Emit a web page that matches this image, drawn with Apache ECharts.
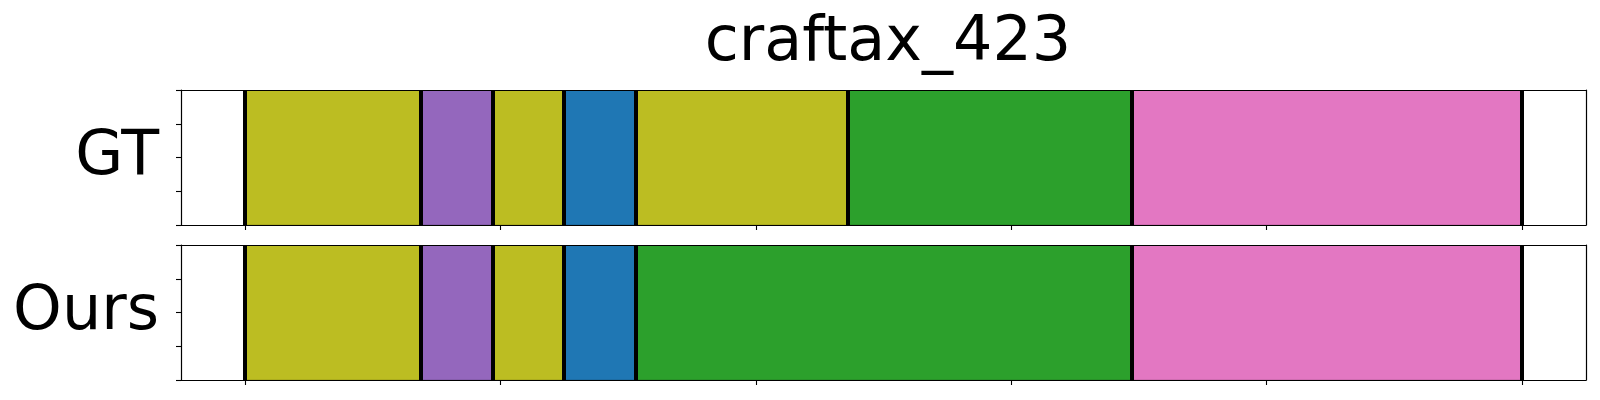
<!DOCTYPE html>
<html>
<head>
<meta charset="utf-8">
<script src="https://cdn.jsdelivr.net/npm/echarts@6/dist/echarts.min.js"></script>
<style>
  html, body { margin: 0; padding: 0; background: #fff; }
  #chart { width: 1600px; height: 400px; }
</style>
</head>
<body>
<div id="chart"></div>
<script>
// ---- data ----
const chartTitle = 'craftax_423';
const rowNames = ['GT', 'Ours'];
const xTicks = [0, 100, 200, 300, 400, 500];
const yTicks = [0, 0.25, 0.5, 0.75, 1];
const gtBoundaries = [0, 69, 97, 125, 153, 236, 347, 500];
const gtClasses = ['olive', 'purple', 'olive', 'blue', 'olive', 'green', 'pink'];
const oursBoundaries = [0, 69, 97, 125, 153, 347, 500];
const oursClasses = ['olive', 'purple', 'olive', 'blue', 'green', 'pink'];
const classColors = {
  olive: '#bcbd22', purple: '#9467bd', blue: '#1f77b4', green: '#2ca02c', pink: '#e377c2'
};
const xMin = -25, xMax = 525;

// ---- build ----
const FONT = 'DejaVu Sans';
const grids = [
  { left: 181, top: 90, right: 14, height: 135 },
  { left: 181, top: 245, right: 14, height: 135 }
];
const rows = [
  { b: gtBoundaries, c: gtClasses },
  { b: oursBoundaries, c: oursClasses }
];

const xAxes = [], yAxes = [], series = [];
rows.forEach((row, i) => {
  // bottom x axis
  xAxes.push({
    type: 'value', gridIndex: i, min: xMin, max: xMax, z: 10,
    axisLine: { show: true, onZero: false, lineStyle: { color: '#000', width: 1.2 } },
    axisTick: { show: true, length: 5, customValues: xTicks, lineStyle: { color: '#000', width: 1.1 } },
    axisLabel: { show: false, customValues: xTicks },
    splitLine: { show: false }
  });
  // top frame line
  xAxes.push({
    type: 'value', gridIndex: i, position: 'top', min: xMin, max: xMax, z: 10,
    axisLine: { show: true, onZero: false, lineStyle: { color: '#000', width: 1.2 } },
    axisTick: { show: false }, axisLabel: { show: false }, splitLine: { show: false }
  });
  // left y axis
  yAxes.push({
    type: 'value', gridIndex: i, min: 0, max: 1, interval: 0.25, z: 10,
    name: rowNames[i], nameLocation: 'middle', nameRotate: 0, nameGap: 22,
    nameTextStyle: { fontFamily: FONT, fontSize: 62, color: '#000', align: 'right', verticalAlign: 'middle' },
    axisLine: { show: true, onZero: false, lineStyle: { color: '#000', width: 1.2 } },
    axisTick: { show: true, length: 5, lineStyle: { color: '#000', width: 1.1 } },
    axisLabel: { show: false }, splitLine: { show: false }
  });
  // right frame line
  yAxes.push({
    type: 'value', gridIndex: i, position: 'right', min: 0, max: 1, z: 10,
    axisLine: { show: true, onZero: false, lineStyle: { color: '#000', width: 1.2 } },
    axisTick: { show: false }, axisLabel: { show: false }, splitLine: { show: false }
  });

  const segData = [];
  for (let k = 0; k < row.c.length; k++) {
    segData.push([row.b[k], row.b[k + 1], row.c[k]]);
  }
  series.push({
    type: 'custom',
    xAxisIndex: i * 2, yAxisIndex: i * 2,
    data: segData,
    encode: { x: [0, 1] },
    clip: true,
    renderItem: function (params, api) {
      const s = api.coord([api.value(0), 1]);
      const e = api.coord([api.value(1), 0]);
      const cls = segData[params.dataIndex][2];
      return {
        type: 'rect',
        shape: { x: s[0], y: s[1], width: e[0] - s[0], height: e[1] - s[1] },
        style: { fill: classColors[cls], stroke: 'rgba(0,0,0,0.18)', lineWidth: 1 }
      };
    },
    markLine: {
      silent: true, symbol: 'none', label: { show: false },
      lineStyle: { color: '#000', width: 4, type: 'solid' },
      data: row.b.map(v => ({ xAxis: v }))
    }
  });
});

const chart = echarts.init(document.getElementById('chart'), null, { renderer: 'canvas' });
chart.setOption({
  animation: false,
  backgroundColor: '#fff',
  title: {
    text: chartTitle, left: 883, top: 8, textAlign: 'center',
    textStyle: { fontFamily: FONT, fontSize: 62, fontWeight: 'normal', color: '#000' }
  },
  grid: grids,
  xAxis: xAxes,
  yAxis: yAxes,
  series: series
});
</script>
</body>
</html>
